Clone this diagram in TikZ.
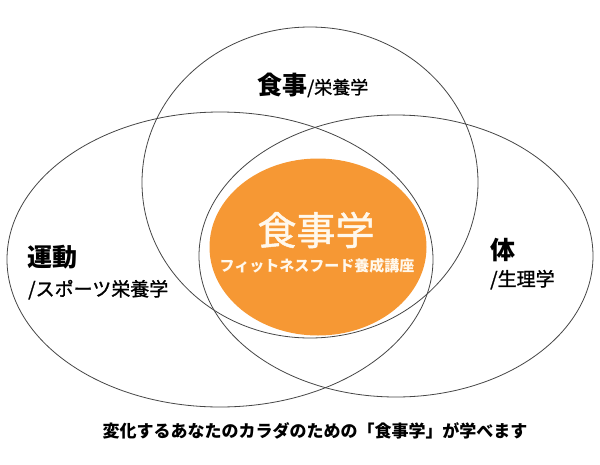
\documentclass[tikz,border=0pt]{standalone}
\usepackage{fontspec}
\setmainfont{Noto Sans CJK JP}
\newfontfamily\semibd[FakeBold=1.2]{Noto Sans CJK JP}
\usetikzlibrary{shapes.geometric}
\definecolor{orangefill}{RGB}{246,152,52}
\definecolor{linegray}{RGB}{70,70,70}
\definecolor{cream}{RGB}{255,248,236}
\begin{document}
\begin{tikzpicture}[x=1pt,y=-1pt,
  setcirc/.style={draw=linegray, line width=0.8pt, ellipse, inner sep=0pt},
  mainlbl/.style={font=\bfseries\fontsize{25}{25}\selectfont, text=black, inner sep=0pt},
  sublbl/.style={font=\semibd\fontsize{19}{19}\selectfont, text=black, inner sep=0pt}]
\useasboundingbox[fill=white] (0,0) rectangle (600,464);
% orange centre
\node[ellipse, fill=orangefill, minimum width=217pt, minimum height=177pt, inner sep=0pt] (core) at (318,247) {};
% three sets
\node[setcirc, minimum width=336pt, minimum height=311pt] (top) at (310,182.5) {};
\node[setcirc, minimum width=426pt, minimum height=295pt] (left) at (220,259.5) {};
\node[setcirc, minimum width=394pt, minimum height=282pt] (right) at (396,256) {};
% labels
\node[anchor=base west, inner sep=0pt] (toplbl) at (257,94)
  {{\bfseries\fontsize{25}{25}\selectfont 食事}{\semibd\fontsize{18}{18}\selectfont /栄養学}};
\node[mainlbl, anchor=base west] (leftlbl) at (27,266) {運動};
\node[sublbl, anchor=base west] (leftsub) at (28,296) {/スポーツ栄養学};
\node[mainlbl, anchor=base west] (rightlbl) at (490,259) {体};
\node[sublbl, anchor=base west] (rightsub) at (490,286) {/生理学};
\node[text=cream, font=\semibd\fontsize{39}{39}\selectfont, inner sep=0pt] (coretitle) at (316,230) {食事学};
\node[text=cream, font=\bfseries\fontsize{15}{15}\selectfont, inner sep=0pt] (coresub) at (317,266) {フィットネスフード養成講座};
\node[font=\bfseries\fontsize{17}{17}\selectfont, inner sep=0pt] (caption) at (315,431) {変化するあなたのカラダのための「食事学」が学べます};
\end{tikzpicture}
\end{document}
